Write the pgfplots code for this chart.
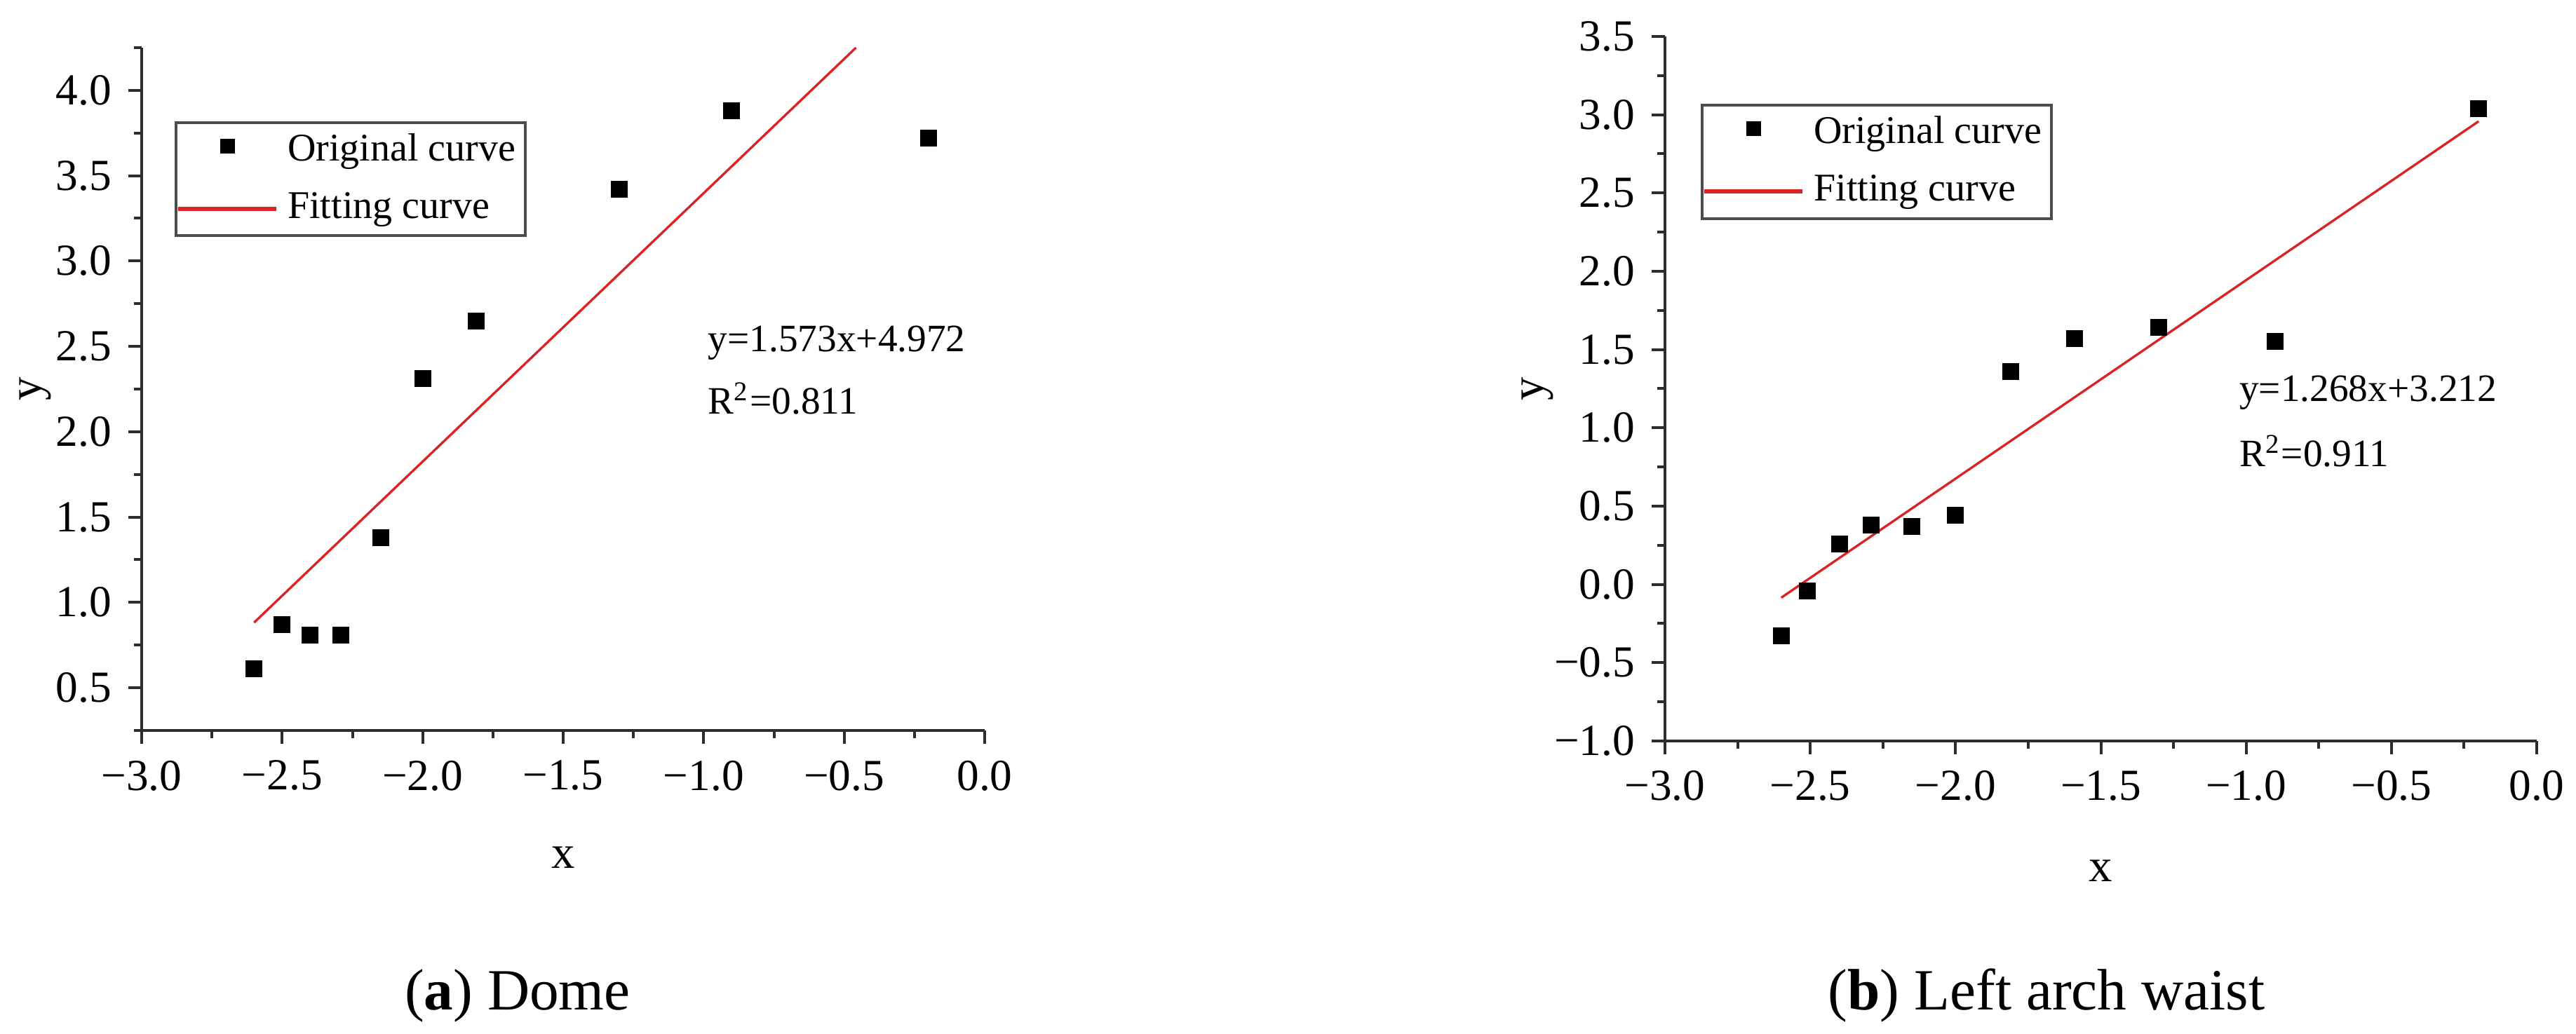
\documentclass[border=0pt]{standalone}
\usepackage{pgfplots}
\pgfplotsset{compat=1.18}
\usepackage{fontspec}
\setmainfont{Liberation Serif}

\definecolor{fitred}{RGB}{220,35,35}
\definecolor{axgray}{RGB}{45,45,45}

\pgfplotsset{
  fitpanel/.style={
    scale only axis,
    axis x line*=bottom, axis y line*=left,
    axis line style={axgray, line width=0.6pt},
    tick style={axgray, line width=0.6pt},
    tick align=outside,
    major tick length=2.9pt, minor tick length=1.7pt,
    xmin=-3, xmax=0,
    xtick={-3,-2.5,...,0},
    minor xtick={-2.75,-2.25,...,-0.25},
    xticklabels={−3.0,−2.5,−2.0,−1.5,−1.0,−0.5,0.0},
    ticklabel style={font=\fontsize{9.5}{11}\selectfont},
    label style={font=\fontsize{10}{12}\selectfont},
    xlabel={x}, ylabel={y},
    legend cell align=left,
    legend style={draw=black!70, line width=0.6pt, anchor=north west,
      font=\fontsize{8.4}{10}\selectfont, inner xsep=0pt, inner ysep=0.3pt,
      row sep=1.2pt},
  },
  origpts/.style={only marks, mark=square*, mark size=1.6pt, black,
    legend image code/.code={\path[draw=none] (0pt,0pt) -- (21pt,0pt);
      \path[draw=none, fill=black] (9pt,-0.6pt) rectangle (12.2pt,2.6pt);}},
  fitline/.style={fitred, line width=0.5pt, mark=none,
    legend image code/.code={\draw[fitred, line width=0.9pt] (0pt,0pt) -- (21pt,0pt);}},
}

\begin{document}
\begin{tikzpicture}
\useasboundingbox (0,0) rectangle (550.95pt,-221.25pt);

% (a) Dome
\begin{axis}[fitpanel,
  at={(30.3pt,-10.2pt)}, anchor=north west,
  width=180.3pt, height=146.1pt,
  ymin=0.25, ymax=4.25,
  ytick={0.5,1,...,4},
  minor ytick={0.25,0.75,...,4.25},
  yticklabels={0.5,1.0,1.5,2.0,2.5,3.0,3.5,4.0},
  xlabel style={at={(axis description cs:0.5,-0.186)}, anchor=center},
  ylabel style={at={(axis description cs:-0.126,0.5)}, anchor=center},
  legend style={at={(0.039,0.892)}},
]
\addplot[origpts] coordinates {
  (-2.60,0.61) (-2.50,0.87) (-2.40,0.81) (-2.29,0.81) (-2.15,1.38)
  (-2.00,2.31) (-1.81,2.65) (-1.30,3.42) (-0.90,3.88) (-0.20,3.72)
};
\addlegendentry{Original curve}
\addplot[fitline] coordinates {(-2.60,0.882) (-0.458,4.25)};
\addlegendentry{Fitting curve}
\node[anchor=west, font=\fontsize{8.3}{10}\selectfont, inner sep=0pt] at (rel axis cs:0.671,0.568) {y=1.573x+4.972};
\node[anchor=west, font=\fontsize{8.3}{10}\selectfont, inner sep=0pt] at (rel axis cs:0.671,0.486) {R\textsuperscript{2}=0.811};
\end{axis}

% (b) Left arch waist
\begin{axis}[fitpanel,
  at={(356.1pt,-7.8pt)}, anchor=north west,
  width=186.45pt, height=150.75pt,
  ymin=-1, ymax=3.5,
  ytick={-1,-0.5,...,3.5},
  minor ytick={-0.75,-0.25,...,3.25},
  yticklabels={−1.0,−0.5,0.0,0.5,1.0,1.5,2.0,2.5,3.0,3.5},
  xlabel style={at={(axis description cs:0.5,-0.184)}, anchor=center},
  ylabel style={at={(axis description cs:-0.146,0.5)}, anchor=center},
  legend style={at={(0.041,0.904)}},
]
\addplot[origpts] coordinates {
  (-2.60,-0.33) (-2.51,-0.04) (-2.40,0.26) (-2.29,0.38) (-2.15,0.37) (-2.00,0.44)
  (-1.81,1.36) (-1.59,1.57) (-1.30,1.64) (-0.90,1.55) (-0.20,3.04)
};
\addlegendentry{Original curve}
\addplot[fitline] coordinates {(-2.60,-0.085) (-0.20,2.958)};
\addlegendentry{Fitting curve}
\node[anchor=west, font=\fontsize{8.3}{10}\selectfont, inner sep=0pt] at (rel axis cs:0.658,0.494) {y=1.268x+3.212};
\node[anchor=west, font=\fontsize{8.3}{10}\selectfont, inner sep=0pt] at (rel axis cs:0.658,0.411) {R\textsuperscript{2}=0.911};
\end{axis}

\node[font=\fontsize{12.5}{14}\selectfont] at (110.7pt,-213pt) {(\textbf{a}) Dome};
\node[font=\fontsize{12.5}{14}\selectfont] at (437.7pt,-213pt) {(\textbf{b}) Left arch waist};
\end{tikzpicture}
\end{document}
